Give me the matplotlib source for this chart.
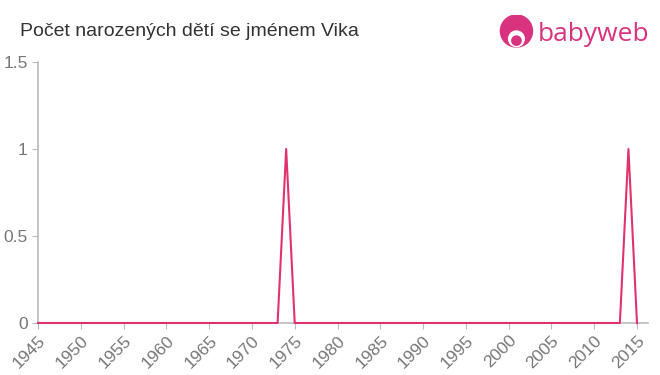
import matplotlib.pyplot as plt
from matplotlib.patches import Circle

plt.rcParams['font.family'] = ['Liberation Sans', 'DejaVu Sans']

years = list(range(1945, 2016))
counts = [0, 0, 0, 0, 0, 0, 0, 0, 0, 0,
          0, 0, 0, 0, 0, 0, 0, 0, 0, 0,
          0, 0, 0, 0, 0, 0, 0, 0, 0, 1,
          0, 0, 0, 0, 0, 0, 0, 0, 0, 0,
          0, 0, 0, 0, 0, 0, 0, 0, 0, 0,
          0, 0, 0, 0, 0, 0, 0, 0, 0, 0,
          0, 0, 0, 0, 0, 0, 0, 0, 0, 1,
          0]
xticks = list(range(1945, 2016, 5))
yticks = [0, 0.5, 1, 1.5]
ytick_labels = ['0', '0.5', '1', '1.5']

grey = '#bbbbbb'
fig = plt.figure(figsize=(6.6, 3.75), dpi=100)
ax = fig.add_axes([0.0576, 0.1387, 0.9244, 0.696])
ax.plot(years, counts, color='#e0336b', linewidth=1.5, zorder=3, clip_on=False)
ax.set_xlim(1945, 2016.3)
ax.set_ylim(0, 1.5)
ax.set_xticks(xticks)
ax.set_xticklabels([str(x) for x in xticks], rotation=45, ha='right', rotation_mode='anchor')
ax.set_yticks(yticks)
ax.set_yticklabels(ytick_labels)
ax.tick_params(colors=grey, labelcolor='#777777', labelsize=12.5, length=4)
ax.tick_params(axis='x', pad=3)
for s in ['top', 'right']:
    ax.spines[s].set_visible(False)
for s in ['left', 'bottom']:
    ax.spines[s].set_color(grey)
    ax.spines[s].set_linewidth(1.2)

fig.text(0.03, 0.915, 'Počet narozených dětí se jménem Vika', fontsize=14,
         color='#333333', va='center')

# logo
pink = '#d9337f'
fig.text(0.815, 0.908, 'babyweb', fontsize=19, color=pink, va='center', ha='left',
         family=['Open Sans', 'DejaVu Sans'])
logo = fig.add_axes([0.755, 0.865, 0.055, 0.095])
logo.set_xlim(0, 1)
logo.set_ylim(0, 1)
logo.set_aspect('equal')
logo.axis('off')
logo.add_patch(Circle((0.5, 0.55), 0.45, color=pink))
logo.add_patch(Circle((0.5, 0.33), 0.22, color='white'))
logo.add_patch(Circle((0.5, 0.28), 0.13, color=pink))

fig.savefig('out.png', dpi=100)
